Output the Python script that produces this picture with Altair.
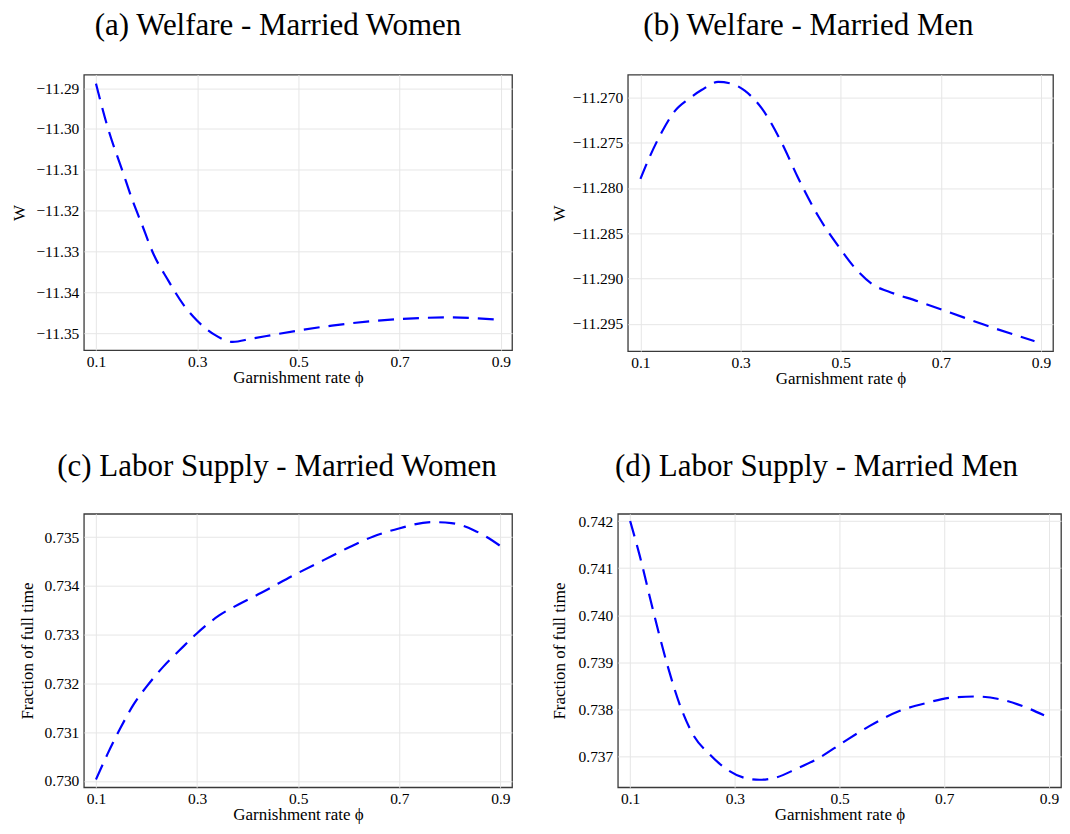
import altair as alt
import pandas as pd

# ---- data ----
phi_a = [0.100, 0.121, 0.154, 0.174, 0.189, 0.214, 0.241, 0.274, 0.299, 0.334, 0.370,
         0.407, 0.500, 0.566, 0.699, 0.798, 0.900]
w_women = [-11.2889, -11.2987, -11.3109, -11.3181, -11.3228, -11.3307, -11.3367, -11.3432,
           -11.3468, -11.3503, -11.3521, -11.3513, -11.3493, -11.3481, -11.3465, -11.3461, -11.3467]

phi_b = [0.100, 0.119, 0.143, 0.169, 0.196, 0.222, 0.255, 0.282, 0.309, 0.342, 0.382, 0.415,
         0.455, 0.495, 0.528, 0.568, 0.594, 0.654, 0.721, 0.787, 0.887]
w_men = [-11.2790, -11.2765, -11.2738, -11.2715, -11.2702, -11.2692, -11.2683, -11.2685,
         -11.2693, -11.2712, -11.2750, -11.2789, -11.2831, -11.2864, -11.2888, -11.2908,
         -11.2914, -11.2925, -11.2938, -11.2951, -11.2969]

phi_c = [0.100, 0.1227, 0.1486, 0.1745, 0.2004, 0.2328, 0.2652, 0.2989, 0.3429, 0.3818, 0.4271,
         0.4984, 0.5502, 0.6020, 0.6474, 0.6992, 0.7640, 0.8029, 0.8482, 0.900]
ls_women = [0.73003, 0.73055, 0.73109, 0.73157, 0.73194, 0.73234, 0.73268, 0.73302, 0.73339,
            0.73362, 0.73386, 0.73426, 0.73453, 0.73480, 0.73501, 0.73518, 0.73531, 0.73529,
            0.73514, 0.73482]

phi_d = [0.100, 0.1184, 0.1438, 0.1693, 0.1947, 0.2201, 0.2519, 0.2836, 0.3154, 0.3472, 0.3790,
         0.4171, 0.4615, 0.5060, 0.5569, 0.6140, 0.6649, 0.7157, 0.7602, 0.8110, 0.8555, 0.8905]
ls_men = [0.74200, 0.74126, 0.74010, 0.73901, 0.73810, 0.73746, 0.73704, 0.73673, 0.73655,
          0.73650, 0.73655, 0.73673, 0.73697, 0.73729, 0.73764, 0.73796, 0.73813, 0.73825,
          0.73827, 0.73820, 0.73804, 0.73787]

x_ticks = [0.1, 0.3, 0.5, 0.7, 0.9]
yticks_a = [-11.35, -11.34, -11.33, -11.32, -11.31, -11.30, -11.29]
yticks_b = [-11.295, -11.290, -11.285, -11.280, -11.275, -11.270]
yticks_c = [0.730, 0.731, 0.732, 0.733, 0.734, 0.735]
yticks_d = [0.737, 0.738, 0.739, 0.740, 0.741, 0.742]

FONT = "Liberation Serif"


def panel(xs, ys, title, ytitle, yticks, yfmt, xdom, ydom, width, height, title_dx,
          ytitle_pad, title_offset):
    df = pd.DataFrame({"phi": xs, "v": ys})
    return (
        alt.Chart(
            df,
            title=alt.TitleParams(
                title, fontSize=31, font=FONT, fontWeight="normal", anchor="middle",
                dx=title_dx, offset=title_offset, color="black",
            ),
        )
        .mark_line(color="#0000ff", strokeWidth=2.2, strokeDash=[16, 9],
                   interpolate="monotone", clip=True)
        .encode(
            x=alt.X("phi:Q",
                    scale=alt.Scale(domain=xdom, nice=False, zero=False),
                    axis=alt.Axis(values=x_ticks, format=".1f", title="Garnishment rate ϕ",
                                  titlePadding=0, labelPadding=4)),
            y=alt.Y("v:Q",
                    scale=alt.Scale(domain=ydom, nice=False, zero=False),
                    axis=alt.Axis(values=yticks, format=yfmt, title=ytitle,
                                  titlePadding=ytitle_pad, labelPadding=5)),
        )
        .properties(width=width, height=height)
    )


a = panel(phi_a, w_women, "(a) Welfare - Married Women", "W", yticks_a, ".2f",
          [0.076, 0.922], [-11.3541, -11.2867], 429, 276, -20, 7, 33)
b = panel(phi_b, w_men, "(b) Welfare - Married Men", "W", yticks_b, ".3f",
          [0.0748, 0.924], [-11.2980, -11.2675], 426, 277, -32, 4, 33)
c = panel(phi_c, ls_women, "(c) Labor Supply - Married Women", "Fraction of full time", yticks_c, ".3f",
          [0.076, 0.923], [0.72987, 0.73548], 429, 274, -21, 8, 31)
d = panel(phi_d, ls_men, "(d) Labor Supply - Married Men", "Fraction of full time", yticks_d, ".3f",
          [0.0765, 0.9229], [0.73634, 0.742154], 444, 274, -23, 10, 31)

chart = (
    alt.concat(a, b, c, d, columns=2, align="none",
               spacing={"row": 62, "column": 36})
    .properties(padding={"left": 2, "top": 0, "right": 0, "bottom": 0})
    .configure(background="white")
    .configure_axis(
        labelFont=FONT, titleFont=FONT, labelFontSize=15.5, titleFontSize=17,
        titleFontWeight="normal", labelColor="black", titleColor="black",
        gridColor="#e6e6e6", gridWidth=1, domain=False, tickSize=0,
    )
    .configure_view(stroke="#3a3a3a", strokeWidth=1.3)
)

chart.save("out.html", embed_options={"renderer": "svg", "actions": False})
